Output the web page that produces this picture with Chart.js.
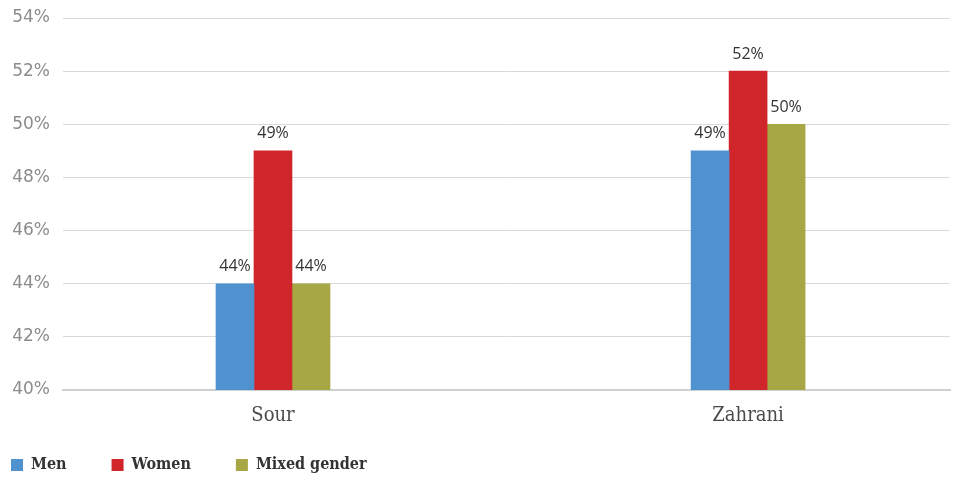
<!DOCTYPE html>
<html>
<head>
<meta charset="utf-8">
<script src="https://cdn.jsdelivr.net/npm/chart.js@4/dist/chart.umd.min.js"></script>
<style>
  html, body { margin: 0; padding: 0; background: #ffffff; }
  canvas { display: block; }
</style>
</head>
<body>
<canvas id="chart" width="955" height="480"></canvas>
<script>
// Share of respondents by district and gender group
const categories = ['Sour', 'Zahrani'];
const seriesNames = ['Men', 'Women', 'Mixed gender'];
const menValues = [44, 49];
const womenValues = [49, 52];
const mixedValues = [44, 50];
const yTickValues = [40, 42, 44, 46, 48, 50, 52, 54];

const seriesColors = ['#5092d0', '#cf252b', '#a7a845'];
const seriesValues = [menValues, womenValues, mixedValues];

const LEGEND_PAD = 45;
const SERIF = '"DejaVu Serif Condensed", "DejaVu Serif", serif';

// Percent labels above each bar
const valueLabels = {
  id: 'valueLabels',
  afterDatasetsDraw(chart) {
    const ctx = chart.ctx;
    ctx.save();
    ctx.font = '16px "Open Sans", sans-serif';
    ctx.fillStyle = '#333333';
    ctx.textAlign = 'center';
    ctx.textBaseline = 'bottom';
    chart.data.datasets.forEach((ds, di) => {
      const meta = chart.getDatasetMeta(di);
      meta.data.forEach((el, i) => {
        ctx.fillText(ds.data[i].y + '%', el.x, el.y - 9);
      });
    });
    ctx.restore();
  }
};

// Place the legend row at the lower-left corner
const legendPlacement = {
  id: 'legendPlacement',
  afterLayout(chart) {
    const lg = chart.legend;
    if (!lg) return;
    lg.left = 11 - LEGEND_PAD;
    lg.top = 457 - LEGEND_PAD;
  }
};

new Chart(document.getElementById('chart'), {
  type: 'bar',
  data: {
    datasets: seriesNames.map((name, s) => ({
      label: name,
      data: categories.map((c, i) => ({ x: i, y: seriesValues[s][i] })),
      backgroundColor: seriesColors[s],
      borderWidth: 0,
      barThickness: 38
    }))
  },
  options: {
    responsive: false,
    animation: false,
    layout: { padding: { top: 18, right: 5, bottom: 0, left: 0 } },
    plugins: {
      tooltip: { enabled: false },
      legend: {
        position: 'bottom',
        align: 'start',
        maxHeight: 38,
        labels: {
          boxWidth: 12,
          boxHeight: 12,
          padding: LEGEND_PAD,
          color: '#333333',
          font: { family: SERIF, size: 16, weight: 'bold' }
        }
      }
    },
    scales: {
      x: {
        type: 'linear',
        offset: false,
        min: -0.442,
        max: 1.425,
        grid: { display: false, drawTicks: false },
        border: { display: true, color: '#d0d0d0', width: 2 },
        afterBuildTicks(scale) {
          scale.ticks = categories.map((c, i) => ({ value: i }));
        },
        ticks: {
          padding: 14,
          color: '#4a4a4a',
          font: { family: SERIF, size: 20 },
          callback: (v) => categories[v] ?? ''
        }
      },
      y: {
        min: 40,
        max: 54,
        grid: { color: '#d9d9d9', lineWidth: 1, drawTicks: false },
        border: { display: false },
        afterBuildTicks(scale) {
          scale.ticks = yTickValues.map(v => ({ value: v }));
        },
        afterFit(scale) {
          scale.width = 63;
          scale.paddingTop = 0;
          scale.paddingBottom = 0;
        },
        ticks: {
          padding: 13,
          color: '#8c8c8c',
          font: { family: '"DejaVu Sans", sans-serif', size: 17 },
          callback: (v) => v + '%'
        }
      }
    }
  },
  plugins: [valueLabels, legendPlacement]
});
</script>
</body>
</html>
